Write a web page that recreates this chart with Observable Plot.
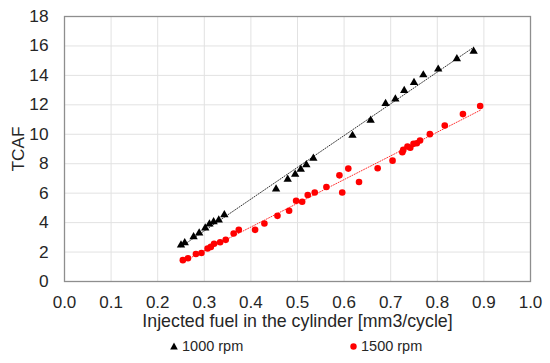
<!DOCTYPE html>
<html>
<head>
<meta charset="utf-8">
<script src="https://cdn.jsdelivr.net/npm/d3@7"></script>
<script src="https://cdn.jsdelivr.net/npm/@observablehq/plot@0.6"></script>
<style>
  html, body { margin: 0; padding: 0; background: #fff; }
  #wrap { position: relative; width: 550px; height: 363px; font-family: "Liberation Sans", Arial, sans-serif; }
  #legend { position: absolute; left: 0; top: 338px; width: 550px; height: 16px; font-size: 14.5px; line-height: 16px; color: #262626; }
  .item { position: absolute; top: 0; display: flex; align-items: center; height: 16px; white-space: nowrap; }
  .item svg { margin-right: 4px; }
</style>
</head>
<body>
<div id="wrap">
  <div id="chart"></div>
  <div id="legend"></div>
</div>
<script>
// Series: 1000 rpm (black triangles)
const x1000 = [0.250, 0.258, 0.277, 0.289, 0.302, 0.311, 0.320, 0.331, 0.343,
  0.454, 0.479, 0.495, 0.507, 0.519, 0.534, 0.618, 0.657, 0.689, 0.710, 0.729,
  0.750, 0.770, 0.802, 0.842, 0.878];
const y1000 = [2.47, 2.62, 3.03, 3.29, 3.63, 3.90, 4.06, 4.17, 4.53,
  6.28, 6.94, 7.28, 7.62, 7.92, 8.37, 9.92, 10.94, 12.08, 12.39, 12.97,
  13.51, 14.03, 14.42, 15.12, 15.64];

// Series: 1500 rpm (red circles)
const x1500 = [0.254, 0.265, 0.282, 0.294, 0.307, 0.314, 0.321, 0.334, 0.346,
  0.363, 0.374, 0.409, 0.429, 0.457, 0.482, 0.497, 0.510, 0.522, 0.537, 0.562,
  0.590, 0.596, 0.609, 0.632, 0.672, 0.704, 0.725, 0.727, 0.736, 0.742, 0.749,
  0.756, 0.763, 0.784, 0.816, 0.855, 0.892];
const y1500 = [1.45, 1.58, 1.87, 1.94, 2.24, 2.35, 2.56, 2.67, 2.83,
  3.26, 3.51, 3.51, 3.94, 4.46, 4.81, 5.49, 5.42, 5.88, 6.05, 6.42,
  7.21, 6.05, 7.67, 6.76, 7.69, 8.21, 8.78, 8.94, 9.17, 9.08, 9.35,
  9.39, 9.58, 10.01, 10.60, 11.37, 11.92];

const xTicks = [0, 0.1, 0.2, 0.3, 0.4, 0.5, 0.6, 0.7, 0.8, 0.9, 1.0];
const yTicks = [0, 2, 4, 6, 8, 10, 12, 14, 16, 18];
const seriesNames = ["1000 rpm", "1500 rpm"];
const xLabel = "Injected fuel in the cylinder [mm3/cycle]";
const yLabel = "TCAF";

const d1000 = x1000.map((x, i) => ({x, y: y1000[i]}));
const d1500 = x1500.map((x, i) => ({x, y: y1500[i]}));

const chart = Plot.plot({
  width: 550,
  height: 332,
  marginLeft: 64,
  marginRight: 20,
  marginTop: 16,
  marginBottom: 51,
  style: {fontFamily: "'Liberation Sans', Arial, sans-serif", fontSize: "17px", color: "#262626", background: "#fff", overflow: "visible"},
  x: {domain: [0, 1]},
  y: {domain: [0, 18]},
  marks: [
    Plot.ruleX(xTicks, {stroke: "#e2e2e2", strokeWidth: 1}),
    Plot.ruleY(yTicks, {stroke: "#e2e2e2", strokeWidth: 1}),
    Plot.frame({stroke: "#8e8e8e", strokeWidth: 1.3}),
    Plot.axisX({ticks: xTicks, tickSize: 0, tickPadding: 14, tickFormat: d3.format(".1f"),
      label: null, fontSize: 17}),
    Plot.text([xLabel], {frameAnchor: "bottom", dy: 45.5, lineAnchor: "bottom", fontSize: 17.8, fill: "#262626"}),
    Plot.axisY({ticks: yTicks, tickSize: 0, tickPadding: 16, tickFormat: d3.format("d"),
      label: yLabel, labelAnchor: "center", labelArrow: "none", labelOffset: 53, fontSize: 17.3}),
    Plot.linearRegressionY(d1000, {x: "x", y: "y", ci: 0, stroke: "#000", strokeWidth: 1, strokeDasharray: "1,1.6", strokeOpacity: 0.8}),
    Plot.linearRegressionY(d1500, {x: "x", y: "y", ci: 0, stroke: "#ff0000", strokeWidth: 1, strokeDasharray: "1,1.6", strokeOpacity: 0.8}),
    Plot.dot(d1000, {x: "x", y: "y", symbol: "triangle", fill: "#000", r: 3.1}),
    Plot.dot(d1500, {x: "x", y: "y", symbol: "circle", fill: "#ff0000", r: 3.3})
  ]
});
document.getElementById("chart").appendChild(chart);

const legend = document.getElementById("legend");
const items = [
  {name: seriesNames[0], left: 170, shape: '<svg width="8" height="8" viewBox="0 0 8 8"><polygon points="4,0.5 7.8,7.5 0.2,7.5" fill="#000"/></svg>'},
  {name: seriesNames[1], left: 350, shape: '<svg width="7" height="7" viewBox="0 0 7 7"><circle cx="3.5" cy="3.5" r="3.2" fill="#ff0000"/></svg>'}
];
for (const it of items) {
  const div = document.createElement("div");
  div.className = "item";
  div.style.left = it.left + "px";
  div.innerHTML = it.shape + "<span>" + it.name + "</span>";
  legend.appendChild(div);
}
</script>
</body>
</html>
